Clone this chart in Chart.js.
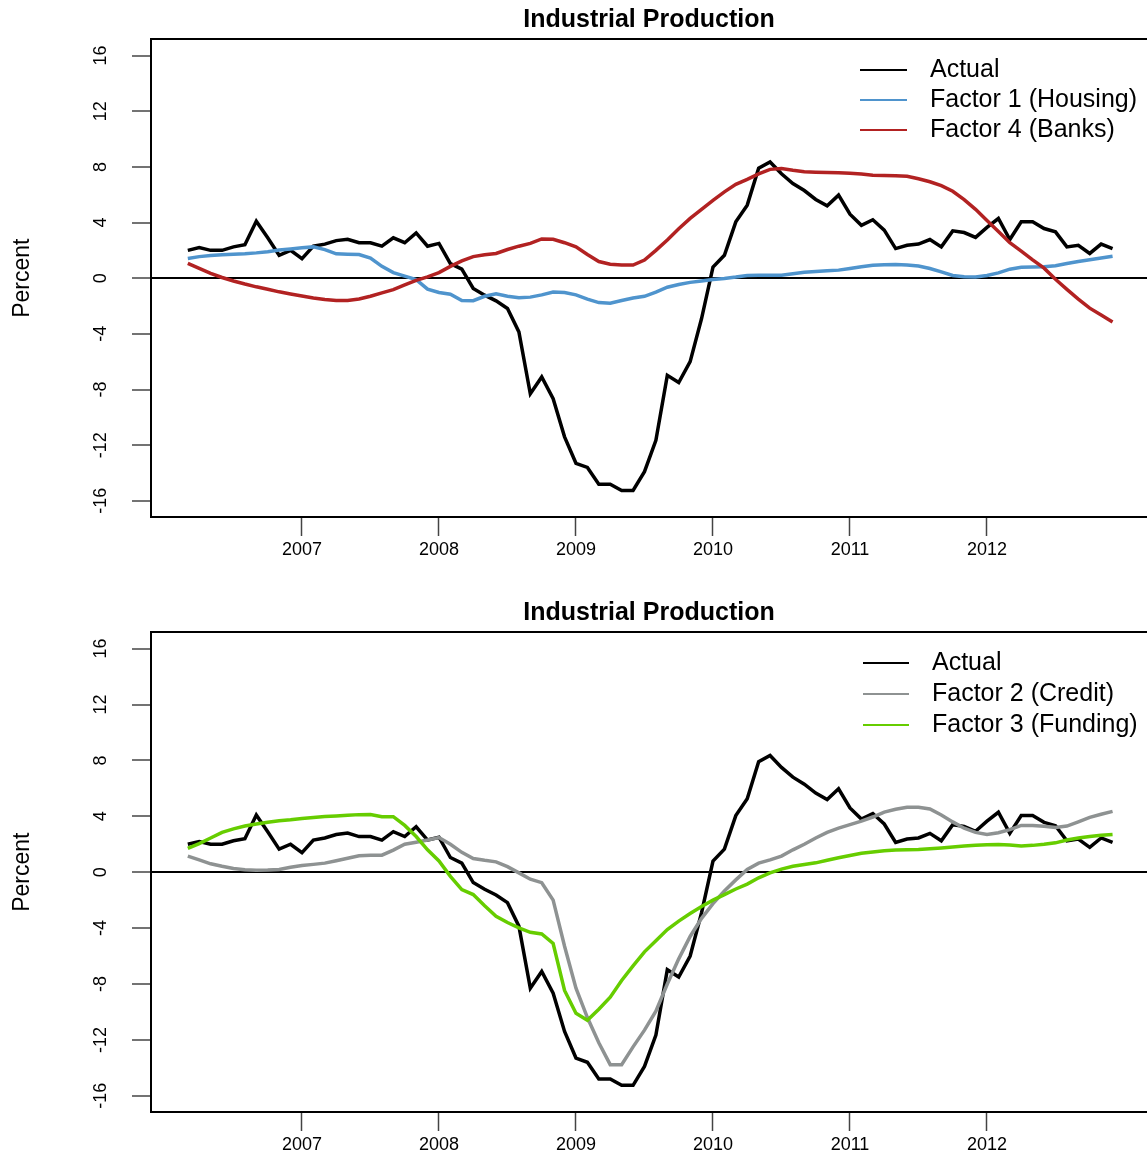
<!DOCTYPE html>
<html>
<head>
<meta charset="utf-8">
<title>Industrial Production</title>
<script src="https://cdn.jsdelivr.net/npm/chart.js@4.4.1/dist/chart.umd.min.js"></script>
<style>
  html, body { margin: 0; padding: 0; background: #fff; overflow: hidden; }
  canvas { display: block; }
</style>
</head>
<body>
<canvas id="topChart" width="1147" height="593"></canvas>
<canvas id="bottomChart" width="1147" height="564"></canvas>
<script>
// monthly series, Mar 2006 .. Dec 2012
const startYear = 2006;
const startMonth = 3;

const actual = [2.0, 2.2, 2.0, 2.0, 2.25, 2.4, 4.1, 2.9, 1.65, 2.0,
    1.4, 2.3, 2.45, 2.7, 2.8, 2.55, 2.55, 2.3, 2.9, 2.55,
    3.25, 2.3, 2.5, 1.05, 0.65, -0.74, -1.22, -1.63, -2.18, -3.86,
    -8.3, -7.1, -8.66, -11.4, -13.3, -13.6, -14.8, -14.8, -15.25, -15.25,
    -13.9, -11.65, -6.98, -7.5, -6.0, -2.9, 0.8, 1.65, 4.05, 5.25,
    7.9, 8.35, 7.5, 6.8, 6.3, 5.66, 5.2, 5.97, 4.6, 3.8,
    4.2, 3.45, 2.13, 2.37, 2.45, 2.78, 2.25, 3.4, 3.28, 2.93,
    3.65, 4.29, 2.78, 4.05, 4.05, 3.57, 3.33, 2.25, 2.37, 1.78,
    2.45, 2.13];

const housing = [1.42, 1.55, 1.63, 1.68, 1.72, 1.76, 1.82, 1.9, 2.02, 2.1,
    2.18, 2.25, 2.05, 1.75, 1.72, 1.7, 1.45, 0.85, 0.4, 0.15,
    -0.1, -0.78, -1.03, -1.15, -1.6, -1.62, -1.3, -1.12, -1.3, -1.4,
    -1.36, -1.2, -1.0, -1.03, -1.2, -1.5, -1.75, -1.8, -1.6, -1.42,
    -1.3, -1.0, -0.65, -0.45, -0.3, -0.2, -0.1, -0.02, 0.08, 0.2,
    0.22, 0.22, 0.22, 0.32, 0.42, 0.48, 0.53, 0.58, 0.7, 0.82,
    0.93, 0.97, 0.98, 0.95, 0.88, 0.7, 0.45, 0.2, 0.1, 0.08,
    0.2, 0.38, 0.65, 0.78, 0.8, 0.83, 0.9, 1.05, 1.2, 1.33,
    1.45, 1.58];

const banks = [1.06, 0.7, 0.35, 0.05, -0.2, -0.42, -0.62, -0.8, -0.98, -1.13,
    -1.28, -1.42, -1.53, -1.6, -1.6, -1.5, -1.3, -1.05, -0.82, -0.48,
    -0.15, 0.1, 0.4, 0.85, 1.25, 1.55, 1.68, 1.78, 2.06, 2.3,
    2.5, 2.82, 2.8, 2.55, 2.25, 1.7, 1.2, 1.0, 0.95, 0.94,
    1.3, 2.0, 2.75, 3.55, 4.3, 4.95, 5.6, 6.2, 6.75, 7.1,
    7.5, 7.82, 7.88, 7.75, 7.65, 7.62, 7.6, 7.58, 7.55, 7.48,
    7.4, 7.38, 7.36, 7.33, 7.15, 6.93, 6.65, 6.25, 5.65, 4.95,
    4.15, 3.35, 2.55, 1.95, 1.32, 0.72, -0.08, -0.8, -1.5, -2.15,
    -2.65, -3.14];

const credit = [1.15, 0.88, 0.6, 0.42, 0.27, 0.17, 0.14, 0.15, 0.2, 0.35,
    0.48, 0.56, 0.65, 0.82, 1.0, 1.17, 1.22, 1.22, 1.58, 2.0,
    2.15, 2.3, 2.48, 2.0, 1.42, 0.98, 0.85, 0.74, 0.4, -0.05,
    -0.5, -0.75, -2.0, -5.3, -8.3, -10.4, -12.2, -13.77, -13.77, -12.5,
    -11.3, -9.95, -8.0, -6.2, -4.6, -3.3, -2.25, -1.35, -0.55, 0.2,
    0.65, 0.88, 1.15, 1.6, 2.0, 2.45, 2.85, 3.15, 3.4, 3.65,
    3.95, 4.3, 4.5, 4.64, 4.65, 4.52, 4.1, 3.6, 3.15, 2.85,
    2.7, 2.82, 3.05, 3.35, 3.35, 3.28, 3.2, 3.3, 3.6, 3.92,
    4.15, 4.35];

const funding = [1.7, 2.05, 2.45, 2.85, 3.1, 3.3, 3.45, 3.58, 3.68, 3.75,
    3.85, 3.92, 3.98, 4.03, 4.08, 4.12, 4.13, 3.97, 3.97, 3.35,
    2.55, 1.6, 0.8, -0.3, -1.25, -1.6, -2.4, -3.15, -3.6, -3.98,
    -4.3, -4.42, -5.1, -8.46, -10.1, -10.6, -9.8, -8.94, -7.75, -6.7,
    -5.7, -4.9, -4.1, -3.5, -2.96, -2.45, -2.0, -1.6, -1.2, -0.85,
    -0.4, -0.05, 0.22, 0.42, 0.55, 0.67, 0.85, 1.03, 1.2, 1.35,
    1.45, 1.53, 1.58, 1.6, 1.62, 1.68, 1.74, 1.8, 1.87, 1.92,
    1.96, 1.98, 1.95, 1.88, 1.92, 2.0, 2.1, 2.3, 2.45, 2.56,
    2.64, 2.7];

const yearTicks = [2007, 2008, 2009, 2010, 2011, 2012];
const percentTicks = [-16, -12, -8, -4, 0, 4, 8, 12, 16];

const dates = actual.map((_, i) => startYear + (startMonth - 1 + i) / 12);
const points = values => values.map((v, i) => ({ x: dates[i], y: v }));

Chart.defaults.font.family = '"Liberation Sans", Arial, sans-serif';
Chart.defaults.color = '#000';

// legend drawn as R-style line key inside the plot
const keyPlugin = {
    id: 'key',
    afterDraw(chart, args, opts) {
        const ctx = chart.ctx;
        ctx.save();
        ctx.font = '25px "Liberation Sans", Arial, sans-serif';
        ctx.textBaseline = 'middle';
        ctx.fillStyle = '#000';
        chart.data.datasets.forEach((ds, i) => {
            const y = opts.top + i * opts.rowHeight;
            ctx.strokeStyle = ds.borderColor;
            ctx.lineWidth = 2;
            ctx.beginPath();
            ctx.moveTo(opts.lineStart, y);
            ctx.lineTo(opts.lineEnd, y);
            ctx.stroke();
            ctx.fillText(ds.label, opts.textX, y);
        });
        ctx.restore();
    }
};

function panelOptions(xAxisHeight, key) {
    return {
        responsive: false,
        animation: false,
        events: [],
        layout: { padding: { left: 6, right: 0, top: 0, bottom: 0 } },
        elements: { point: { radius: 0 }, line: { borderWidth: 3.5, tension: 0 } },
        plugins: {
            legend: { display: false },
            tooltip: { enabled: false },
            title: {
                display: true,
                text: 'Industrial Production',
                fullSize: false,
                color: '#000',
                font: { size: 25, weight: 'bold' },
                padding: { top: 5, bottom: 4.4 }
            },
            key: key
        },
        scales: {
            x: {
                type: 'linear',
                position: 'bottom',
                min: 2005.898,
                max: 2013.168,
                afterBuildTicks: s => { s.ticks = yearTicks.map(v => ({ value: v })); },
                afterFit: s => { s.height = xAxisHeight; },
                grid: { drawOnChartArea: false, tickLength: 19, tickColor: '#444', tickWidth: 1.5 },
                border: { color: '#000', width: 2 },
                ticks: { font: { size: 18 }, color: '#000', padding: 3, maxRotation: 0, autoSkip: false, callback: v => String(v) }
            },
            xTop: {
                type: 'linear',
                position: 'top',
                min: 2005.898,
                max: 2013.168,
                afterFit: s => { s.height = 0; },
                grid: { display: false },
                border: { color: '#000', width: 2 },
                ticks: { display: false }
            },
            y: {
                min: -17.16,
                max: 17.16,
                afterBuildTicks: s => { s.ticks = percentTicks.map(v => ({ value: v })); },
                afterFit: s => { s.width = 145; },
                grid: {
                    color: c => (c.tick && c.tick.value === 0) ? '#000' : 'rgba(0,0,0,0)',
                    lineWidth: 2,
                    tickLength: 19,
                    tickColor: '#444',
                    tickWidth: 1.5
                },
                border: { color: '#000', width: 2 },
                ticks: { font: { size: 18 }, color: '#000', minRotation: 90, maxRotation: 90, crossAlign: 'center', padding: 18, autoSkip: false },
                title: { display: true, text: 'Percent', color: '#000', font: { size: 23 }, padding: { top: 3, bottom: 0 } }
            }
        }
    };
}

new Chart(document.getElementById('topChart'), {
    type: 'line',
    data: {
        datasets: [
            { label: 'Actual', data: points(actual), borderColor: '#000000', order: 3 },
            { label: 'Factor 1 (Housing)', data: points(housing), borderColor: '#4F94CD', order: 2 },
            { label: 'Factor 4 (Banks)', data: points(banks), borderColor: '#B22222', order: 1 }
        ]
    },
    options: panelOptions(76, { top: 70, rowHeight: 30, lineStart: 860, lineEnd: 907, textX: 930 }),
    plugins: [keyPlugin]
});

new Chart(document.getElementById('bottomChart'), {
    type: 'line',
    data: {
        datasets: [
            { label: 'Actual', data: points(actual), borderColor: '#000000', order: 3 },
            { label: 'Factor 2 (Credit)', data: points(credit), borderColor: '#8E9292', order: 2 },
            { label: 'Factor 3 (Funding)', data: points(funding), borderColor: '#66CD00', order: 1 }
        ]
    },
    options: panelOptions(45, { top: 70, rowHeight: 31, lineStart: 863, lineEnd: 909, textX: 932 }),
    plugins: [keyPlugin]
});
</script>
</body>
</html>
